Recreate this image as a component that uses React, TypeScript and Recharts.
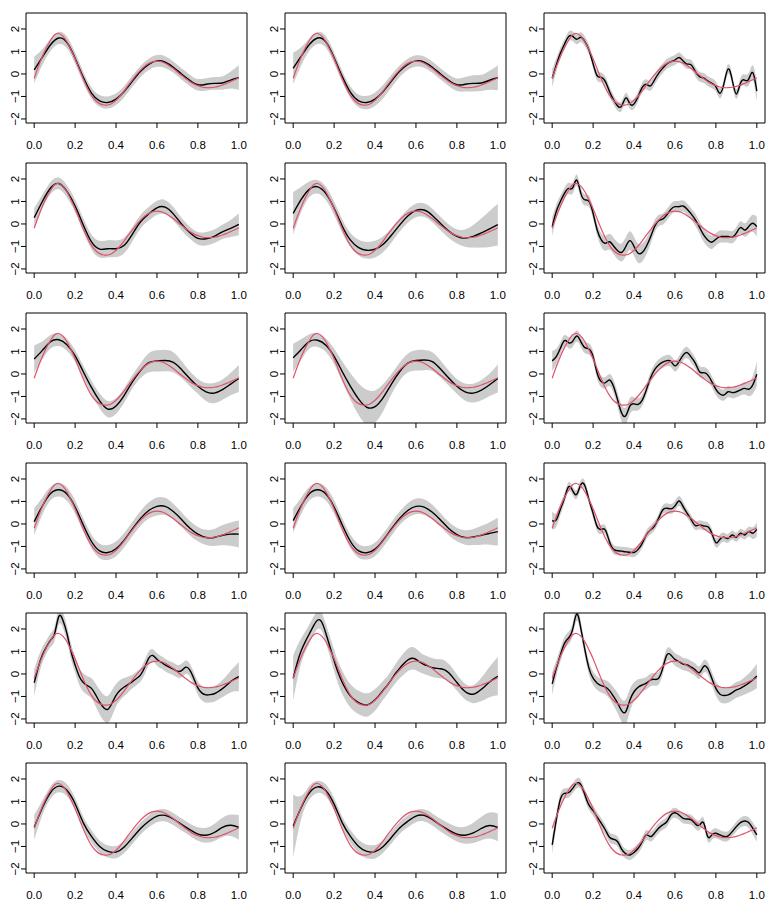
import React from 'react';
import { ComposedChart, Area, Line, XAxis, YAxis, ReferenceArea } from 'recharts';

// sample positions
const X26 = [0, 0.04, 0.08, 0.12, 0.16, 0.2, 0.24, 0.28, 0.32, 0.36, 0.4, 0.44, 0.48, 0.52, 0.56, 0.6, 0.64, 0.68, 0.72, 0.76, 0.8, 0.84, 0.88, 0.92, 0.96, 1];
const X51 = [0, 0.02, 0.04, 0.06, 0.08, 0.1, 0.12, 0.14, 0.16, 0.18, 0.2, 0.22, 0.24, 0.26, 0.28, 0.3, 0.32, 0.34, 0.36, 0.38, 0.4, 0.42, 0.44, 0.46, 0.48, 0.5, 0.52, 0.54, 0.56, 0.58, 0.6, 0.62, 0.64, 0.66, 0.68, 0.7, 0.72, 0.74, 0.76, 0.78, 0.8, 0.82, 0.84, 0.86, 0.88, 0.9, 0.92, 0.94, 0.96, 0.98, 1];
const X_TICKS = [0, 0.2, 0.4, 0.6, 0.8, 1];
const Y_TICKS = [-2, -1, 0, 1, 2];

// true curve (red), on X51
const TRUTH = [-0.19, 0.32, 0.78, 1.17, 1.5, 1.74, 1.8, 1.68, 1.43, 1.07, 0.68, 0.22, -0.22, -0.62, -0.95, -1.18, -1.32, -1.38, -1.38, -1.31, -1.17, -0.98, -0.75, -0.5, -0.26, -0.03, 0.17, 0.34, 0.47, 0.55, 0.57, 0.55, 0.48, 0.37, 0.24, 0.09, -0.06, -0.2, -0.33, -0.44, -0.52, -0.58, -0.61, -0.61, -0.59, -0.55, -0.49, -0.42, -0.34, -0.26, -0.17];

// row 1
const EST_11 = [0.18, 0.75, 1.3, 1.6, 1.4, 0.7, -0.15, -0.85, -1.2, -1.27, -1.12, -0.78, -0.32, 0.12, 0.43, 0.58, 0.53, 0.3, 0.0, -0.28, -0.48, -0.46, -0.42, -0.4, -0.27, -0.16];
const HW_11 = [0.6, 0.35, 0.28, 0.27, 0.26, 0.25, 0.25, 0.25, 0.26, 0.27, 0.26, 0.25, 0.25, 0.25, 0.25, 0.26, 0.26, 0.25, 0.25, 0.25, 0.26, 0.27, 0.28, 0.3, 0.38, 0.55];
const EST_12 = [0.25, 0.8, 1.32, 1.6, 1.42, 0.72, -0.12, -0.82, -1.2, -1.27, -1.12, -0.78, -0.32, 0.12, 0.43, 0.58, 0.53, 0.3, 0.0, -0.28, -0.48, -0.46, -0.42, -0.4, -0.28, -0.17];
const HW_12 = [0.7, 0.4, 0.28, 0.27, 0.26, 0.25, 0.25, 0.26, 0.28, 0.3, 0.3, 0.3, 0.28, 0.26, 0.25, 0.25, 0.25, 0.25, 0.25, 0.26, 0.28, 0.32, 0.36, 0.36, 0.42, 0.55];
const EST_13 = [-0.19, 0.4, 0.92, 1.32, 1.66, 1.68, 1.54, 1.63, 1.44, 1.07, 0.45, -0.08, -0.15, -0.34, -0.78, -1.15, -1.42, -1.42, -1.06, -1.33, -1.33, -1.0, -0.6, -0.46, -0.53, -0.27, 0.03, 0.25, 0.44, 0.55, 0.62, 0.73, 0.58, 0.44, 0.4, 0.1, -0.12, -0.18, -0.31, -0.41, -0.56, -0.86, -0.41, 0.22, -0.27, -0.89, -0.41, -0.27, -0.24, 0.06, -0.76];
const HW_13 = [0.4, 0.3, 0.25, 0.22, 0.22, 0.22, 0.22, 0.22, 0.22, 0.22, 0.22, 0.22, 0.22, 0.22, 0.22, 0.22, 0.22, 0.22, 0.22, 0.22, 0.22, 0.22, 0.22, 0.22, 0.22, 0.22, 0.22, 0.22, 0.22, 0.22, 0.22, 0.22, 0.22, 0.22, 0.22, 0.22, 0.22, 0.22, 0.22, 0.22, 0.22, 0.22, 0.22, 0.22, 0.22, 0.22, 0.23, 0.25, 0.28, 0.33, 0.45];

// row 2
const EST_21 = [0.28, 1.0, 1.6, 1.8, 1.45, 0.8, -0.05, -0.8, -1.12, -1.1, -1.1, -0.95, -0.45, 0.1, 0.45, 0.72, 0.75, 0.45, 0.0, -0.38, -0.64, -0.66, -0.55, -0.35, -0.2, -0.02];
const HW_21 = [0.42, 0.3, 0.27, 0.26, 0.27, 0.28, 0.3, 0.33, 0.37, 0.38, 0.37, 0.35, 0.32, 0.3, 0.3, 0.31, 0.32, 0.3, 0.28, 0.27, 0.28, 0.3, 0.3, 0.32, 0.38, 0.48];
const EST_22 = [0.47, 1.1, 1.55, 1.65, 1.35, 0.7, -0.1, -0.72, -1.05, -1.17, -1.12, -0.9, -0.5, -0.05, 0.35, 0.6, 0.62, 0.38, 0.02, -0.32, -0.55, -0.63, -0.55, -0.4, -0.22, -0.03];
const HW_22 = [0.95, 0.55, 0.35, 0.3, 0.3, 0.3, 0.3, 0.32, 0.35, 0.37, 0.37, 0.35, 0.32, 0.3, 0.3, 0.3, 0.3, 0.3, 0.3, 0.3, 0.32, 0.38, 0.5, 0.65, 0.8, 0.93];
const EST_23 = [-0.12, 0.55, 1.0, 1.36, 1.58, 1.6, 1.95, 1.36, 1.07, 1.0, 0.47, -0.27, -0.71, -0.86, -0.79, -0.98, -1.19, -1.26, -1.0, -0.74, -1.0, -1.3, -1.27, -1.0, -0.59, -0.12, 0.15, 0.21, 0.4, 0.65, 0.77, 0.77, 0.8, 0.65, 0.44, 0.18, -0.15, -0.49, -0.71, -0.81, -0.68, -0.56, -0.56, -0.56, -0.59, -0.41, -0.16, -0.27, -0.12, 0.03, -0.12];
const HW_23 = [0.42, 0.32, 0.27, 0.25, 0.25, 0.25, 0.25, 0.25, 0.25, 0.25, 0.25, 0.27, 0.3, 0.33, 0.35, 0.37, 0.38, 0.4, 0.42, 0.42, 0.42, 0.42, 0.4, 0.36, 0.32, 0.28, 0.25, 0.25, 0.25, 0.25, 0.25, 0.25, 0.25, 0.25, 0.25, 0.27, 0.28, 0.3, 0.3, 0.3, 0.28, 0.27, 0.27, 0.27, 0.27, 0.27, 0.28, 0.3, 0.33, 0.38, 0.45];

// row 3
const EST_31 = [0.67, 1.05, 1.43, 1.52, 1.3, 0.8, 0.1, -0.6, -1.2, -1.56, -1.42, -0.95, -0.35, 0.15, 0.5, 0.58, 0.6, 0.52, 0.2, -0.2, -0.55, -0.8, -0.85, -0.7, -0.45, -0.2];
const HW_31 = [0.6, 0.4, 0.3, 0.28, 0.27, 0.27, 0.28, 0.3, 0.33, 0.36, 0.35, 0.32, 0.3, 0.33, 0.42, 0.47, 0.48, 0.45, 0.38, 0.33, 0.33, 0.4, 0.45, 0.45, 0.5, 0.6];
const EST_32 = [0.72, 1.1, 1.45, 1.5, 1.28, 0.78, 0.1, -0.55, -1.12, -1.48, -1.45, -1.05, -0.45, 0.1, 0.48, 0.6, 0.62, 0.55, 0.22, -0.18, -0.55, -0.8, -0.85, -0.72, -0.48, -0.2];
const HW_32 = [0.62, 0.45, 0.32, 0.3, 0.3, 0.35, 0.45, 0.58, 0.7, 0.78, 0.72, 0.6, 0.45, 0.4, 0.42, 0.45, 0.45, 0.42, 0.38, 0.33, 0.33, 0.38, 0.42, 0.45, 0.5, 0.62];
const EST_33 = [0.58, 0.77, 1.14, 1.48, 1.39, 1.45, 1.69, 1.44, 1.17, 1.11, 0.77, 0.03, -0.34, -0.39, -0.27, -0.56, -1.16, -1.75, -1.85, -1.42, -1.33, -1.35, -1.16, -0.71, -0.19, 0.18, 0.4, 0.53, 0.59, 0.56, 0.36, 0.55, 0.84, 0.95, 0.74, 0.47, 0.1, 0.06, -0.04, -0.34, -0.68, -0.89, -0.93, -0.79, -0.83, -0.79, -0.71, -0.64, -0.68, -0.49, -0.01];
const HW_33 = [0.45, 0.35, 0.28, 0.25, 0.25, 0.25, 0.25, 0.25, 0.25, 0.25, 0.25, 0.25, 0.25, 0.25, 0.27, 0.3, 0.33, 0.37, 0.38, 0.35, 0.3, 0.27, 0.25, 0.25, 0.25, 0.25, 0.25, 0.25, 0.25, 0.25, 0.25, 0.25, 0.25, 0.25, 0.25, 0.25, 0.25, 0.25, 0.25, 0.25, 0.25, 0.25, 0.25, 0.25, 0.25, 0.25, 0.25, 0.27, 0.3, 0.4, 0.55];

// row 4
const EST_41 = [0.1, 0.8, 1.35, 1.52, 1.33, 0.75, -0.05, -0.78, -1.2, -1.27, -1.1, -0.72, -0.22, 0.25, 0.6, 0.78, 0.78, 0.55, 0.2, -0.18, -0.45, -0.6, -0.6, -0.5, -0.45, -0.45];
const HW_41 = [0.6, 0.38, 0.3, 0.3, 0.3, 0.3, 0.3, 0.3, 0.32, 0.33, 0.33, 0.32, 0.32, 0.33, 0.36, 0.4, 0.38, 0.35, 0.32, 0.32, 0.32, 0.34, 0.38, 0.45, 0.52, 0.6];
const EST_42 = [0.15, 0.82, 1.35, 1.52, 1.33, 0.75, -0.05, -0.78, -1.2, -1.28, -1.12, -0.72, -0.22, 0.25, 0.6, 0.78, 0.75, 0.52, 0.18, -0.2, -0.47, -0.6, -0.58, -0.5, -0.42, -0.34];
const HW_42 = [0.55, 0.36, 0.3, 0.3, 0.3, 0.3, 0.3, 0.3, 0.3, 0.3, 0.3, 0.3, 0.3, 0.3, 0.32, 0.35, 0.35, 0.33, 0.3, 0.3, 0.3, 0.32, 0.36, 0.42, 0.5, 0.62];
const EST_43 = [0.15, 0.18, 0.65, 1.14, 1.65, 1.48, 1.32, 1.75, 1.7, 1.07, 0.47, -0.12, -0.24, -0.27, -0.79, -1.13, -1.19, -1.21, -1.24, -1.26, -1.27, -1.13, -0.86, -0.49, -0.27, -0.09, 0.25, 0.62, 0.7, 0.67, 0.8, 1.02, 0.77, 0.47, 0.18, -0.07, -0.04, -0.09, -0.12, -0.41, -0.83, -0.68, -0.59, -0.64, -0.49, -0.59, -0.41, -0.49, -0.34, -0.41, -0.24];
const HW_43 = [0.4, 0.3, 0.25, 0.22, 0.2, 0.2, 0.2, 0.2, 0.2, 0.2, 0.2, 0.2, 0.2, 0.2, 0.2, 0.2, 0.2, 0.2, 0.2, 0.2, 0.2, 0.2, 0.2, 0.2, 0.2, 0.2, 0.2, 0.2, 0.22, 0.22, 0.22, 0.22, 0.22, 0.2, 0.2, 0.2, 0.2, 0.2, 0.2, 0.2, 0.22, 0.22, 0.2, 0.2, 0.2, 0.2, 0.2, 0.2, 0.22, 0.26, 0.32];

// row 5
const EST_51 = [-0.39, 0.3, 0.84, 1.2, 1.5, 1.8, 2.55, 2.4, 1.8, 1.0, 0.4, -0.1, -0.38, -0.52, -0.64, -0.92, -1.25, -1.5, -1.57, -1.3, -0.95, -0.72, -0.58, -0.46, -0.34, -0.2, -0.04, 0.3, 0.7, 0.82, 0.65, 0.52, 0.4, 0.3, 0.22, 0.12, 0.15, 0.3, 0.18, -0.2, -0.62, -0.85, -0.93, -0.92, -0.88, -0.78, -0.65, -0.5, -0.34, -0.22, -0.12];
const HW_51 = [0.6, 0.45, 0.35, 0.3, 0.3, 0.32, 0.35, 0.35, 0.35, 0.35, 0.35, 0.38, 0.4, 0.42, 0.45, 0.5, 0.55, 0.58, 0.6, 0.58, 0.5, 0.45, 0.4, 0.35, 0.3, 0.3, 0.3, 0.32, 0.3, 0.28, 0.28, 0.28, 0.28, 0.28, 0.28, 0.28, 0.3, 0.3, 0.28, 0.28, 0.3, 0.33, 0.35, 0.35, 0.35, 0.35, 0.38, 0.42, 0.48, 0.55, 0.65];
const EST_52 = [-0.19, 0.5, 1.05, 1.45, 1.8, 2.15, 2.4, 2.3, 1.8, 1.2, 0.6, 0.05, -0.38, -0.72, -0.98, -1.15, -1.27, -1.35, -1.38, -1.3, -1.15, -0.95, -0.72, -0.5, -0.25, 0.02, 0.25, 0.45, 0.62, 0.7, 0.65, 0.52, 0.42, 0.35, 0.28, 0.25, 0.23, 0.18, 0.05, -0.15, -0.38, -0.6, -0.78, -0.88, -0.9, -0.82, -0.68, -0.52, -0.36, -0.22, -0.1];
const HW_52 = [1.0, 0.75, 0.55, 0.45, 0.42, 0.4, 0.4, 0.4, 0.42, 0.45, 0.48, 0.5, 0.52, 0.52, 0.52, 0.52, 0.52, 0.52, 0.52, 0.5, 0.48, 0.45, 0.42, 0.4, 0.4, 0.42, 0.45, 0.48, 0.5, 0.5, 0.48, 0.45, 0.42, 0.42, 0.42, 0.42, 0.42, 0.42, 0.4, 0.38, 0.36, 0.35, 0.35, 0.36, 0.4, 0.45, 0.52, 0.6, 0.68, 0.76, 0.85];
const EST_53 = [-0.44, 0.25, 0.84, 1.36, 1.6, 1.98, 2.67, 2.03, 1.07, 0.25, -0.19, -0.41, -0.52, -0.59, -0.74, -1.0, -1.3, -1.64, -1.67, -1.16, -0.79, -0.59, -0.49, -0.41, -0.27, -0.24, -0.19, 0.25, 0.84, 0.84, 0.65, 0.55, 0.44, 0.4, 0.3, 0.18, 0.06, 0.33, 0.25, -0.19, -0.64, -0.9, -0.96, -0.93, -0.83, -0.71, -0.64, -0.53, -0.41, -0.27, -0.09];
const HW_53 = [0.5, 0.35, 0.3, 0.28, 0.28, 0.28, 0.3, 0.3, 0.3, 0.3, 0.3, 0.3, 0.3, 0.32, 0.35, 0.4, 0.45, 0.5, 0.55, 0.5, 0.42, 0.35, 0.3, 0.28, 0.28, 0.28, 0.28, 0.28, 0.28, 0.28, 0.28, 0.28, 0.28, 0.28, 0.28, 0.28, 0.28, 0.28, 0.28, 0.3, 0.32, 0.35, 0.35, 0.35, 0.35, 0.35, 0.35, 0.38, 0.42, 0.48, 0.55];

// row 6
const EST_61 = [-0.15, 0.72, 1.4, 1.68, 1.5, 0.9, 0.05, -0.55, -1.0, -1.22, -1.25, -1.02, -0.62, -0.2, 0.12, 0.35, 0.38, 0.22, -0.02, -0.25, -0.45, -0.5, -0.38, -0.15, -0.06, -0.15];
const HW_61 = [0.55, 0.32, 0.27, 0.27, 0.27, 0.27, 0.27, 0.27, 0.27, 0.27, 0.27, 0.27, 0.27, 0.27, 0.27, 0.27, 0.27, 0.27, 0.27, 0.27, 0.3, 0.33, 0.38, 0.43, 0.48, 0.55];
const EST_62 = [-0.09, 0.75, 1.4, 1.65, 1.48, 0.88, 0.05, -0.55, -1.0, -1.22, -1.23, -1.0, -0.6, -0.18, 0.12, 0.35, 0.38, 0.2, -0.05, -0.27, -0.45, -0.5, -0.4, -0.2, -0.07, -0.15];
const HW_62 = [1.4, 0.5, 0.3, 0.27, 0.27, 0.27, 0.27, 0.28, 0.3, 0.3, 0.3, 0.28, 0.27, 0.27, 0.27, 0.27, 0.27, 0.27, 0.28, 0.3, 0.33, 0.38, 0.45, 0.52, 0.58, 0.62];
const EST_63 = [-0.93, 0.18, 1.1, 1.36, 1.39, 1.58, 1.81, 1.75, 1.29, 0.84, 0.59, 0.3, 0.03, -0.27, -0.59, -0.68, -0.79, -1.13, -1.33, -1.38, -1.27, -1.08, -0.79, -0.49, -0.56, -0.41, -0.19, -0.04, 0.1, 0.4, 0.5, 0.4, 0.25, 0.22, 0.18, 0.0, -0.05, 0.05, -0.56, -0.49, -0.41, -0.49, -0.56, -0.53, -0.34, -0.12, 0.06, 0.13, 0.06, -0.19, -0.49];
const HW_63 = [0.4, 0.3, 0.25, 0.22, 0.22, 0.22, 0.22, 0.22, 0.22, 0.22, 0.22, 0.22, 0.22, 0.22, 0.22, 0.22, 0.22, 0.22, 0.22, 0.22, 0.22, 0.22, 0.22, 0.22, 0.22, 0.22, 0.22, 0.22, 0.22, 0.22, 0.22, 0.22, 0.22, 0.22, 0.22, 0.22, 0.22, 0.22, 0.22, 0.22, 0.22, 0.22, 0.22, 0.22, 0.22, 0.22, 0.22, 0.22, 0.24, 0.27, 0.3];

const PANELS: [number[], number[]][] = [
  [EST_11, HW_11], [EST_12, HW_12], [EST_13, HW_13],
  [EST_21, HW_21], [EST_22, HW_22], [EST_23, HW_23],
  [EST_31, HW_31], [EST_32, HW_32], [EST_33, HW_33],
  [EST_41, HW_41], [EST_42, HW_42], [EST_43, HW_43],
  [EST_51, HW_51], [EST_52, HW_52], [EST_53, HW_53],
  [EST_61, HW_61], [EST_62, HW_62], [EST_63, HW_63],
];

const FONT = '"Liberation Sans", Arial, Helvetica, sans-serif';
const X_DOMAIN: [number, number] = [-0.04, 1.04];
const Y_DOMAIN: [number, number] = [-2.18, 2.71];

const fmtY = (v: number) => (v < 0 ? '\u2212' + Math.abs(v) : String(v));

const YTick = (props: any) => {
  const { x, y, payload } = props;
  const px = x - 2;
  return (
    <text x={px} y={y} transform={`rotate(-90, ${px}, ${y})`} textAnchor="middle" fontSize={11.5} fill="#000" fontFamily={FONT}>
      {fmtY(payload.value)}
    </text>
  );
};

const Panel = ({ est, hw }: { est: number[]; hw: number[] }) => {
  const xs = est.length === 26 ? X26 : X51;
  const fit = xs.map((x, i) => ({
    x,
    y: est[i],
    band: [est[i] - (hw[i] ?? 0.25), est[i] + (hw[i] ?? 0.25)],
  }));
  const truth = X51.map((x, i) => ({ x, y: TRUTH[i] }));
  return (
    <ComposedChart width={259} height={150} margin={{ top: 13, right: 12, bottom: 0, left: 0 }}>
      <XAxis
        type="number"
        dataKey="x"
        domain={X_DOMAIN}
        ticks={X_TICKS}
        allowDataOverflow
        height={27}
        axisLine={false}
        tickLine={{ stroke: '#000' }}
        tickSize={5}
        tickMargin={13}
        interval={0}
        tickFormatter={(v: number) => v.toFixed(1)}
        tick={{ fontSize: 11.5, fill: '#000', fontFamily: FONT }}
      />
      <YAxis
        type="number"
        domain={Y_DOMAIN}
        ticks={Y_TICKS}
        allowDataOverflow
        width={26}
        axisLine={false}
        tickLine={{ stroke: '#000' }}
        tickSize={5}
        tickMargin={0}
        interval={0}
        tick={<YTick />}
      />
      <Area
        data={fit}
        dataKey="band"
        type="natural"
        fill="#cccccc"
        fillOpacity={1}
        stroke="none"
        isAnimationActive={false}
        dot={false}
        activeDot={false}
      />
      <Line data={fit} dataKey="y" type="natural" stroke="#000" strokeWidth={1.4} dot={false} activeDot={false} isAnimationActive={false} />
      <Line data={truth} dataKey="y" type="natural" stroke="#DF536B" strokeWidth={1.2} dot={false} activeDot={false} isAnimationActive={false} />
      <ReferenceArea x1={X_DOMAIN[0]} x2={X_DOMAIN[1]} y1={Y_DOMAIN[0]} y2={Y_DOMAIN[1]} fill="none" stroke="#000" strokeWidth={1} ifOverflow="visible" />
    </ComposedChart>
  );
};

export default function App() {
  return (
    <div
      style={{
        position: 'absolute',
        left: 0,
        top: 0,
        width: 777,
        height: 900,
        background: '#fff',
        display: 'grid',
        gridTemplateColumns: '259px 259px 259px',
        gridTemplateRows: 'repeat(6, 150px)',
      }}
    >
      {PANELS.map(([est, hw], i) => (
        <Panel key={i} est={est} hw={hw} />
      ))}
    </div>
  );
}
